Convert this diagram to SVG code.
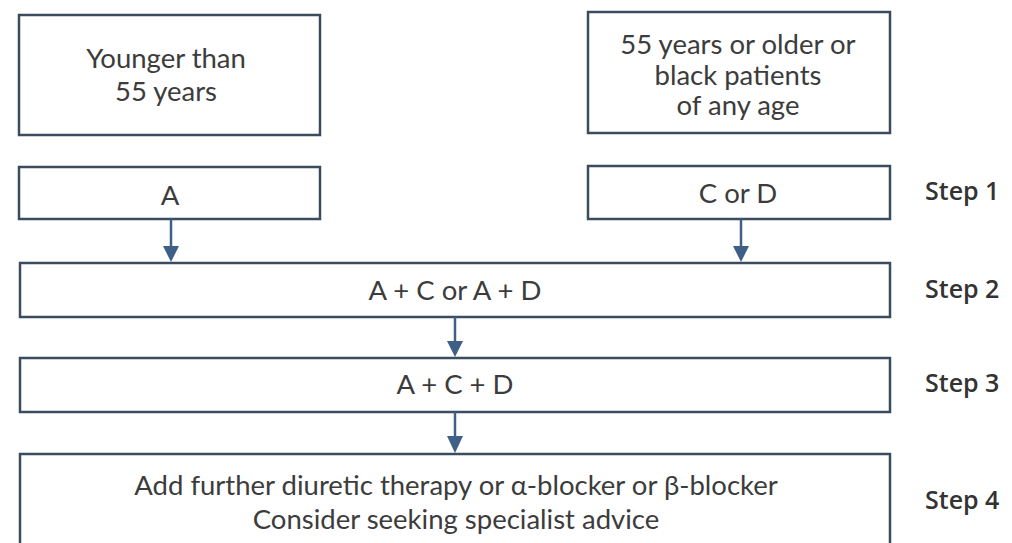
<svg xmlns="http://www.w3.org/2000/svg" width="1012" height="543" viewBox="0 0 1012 543">
  <defs>
    <style>
      .box { fill: #ffffff; stroke: #3b4b60; stroke-width: 2.5; }
      .lbl { font-family: Lato, "Open Sans", "Liberation Sans", sans-serif; font-size: 27.5px; fill: #3c3c3c; text-anchor: middle; }
      .step { font-family: "Open Sans", Lato, "Liberation Sans", sans-serif; font-size: 25px; font-weight: 600; fill: #333333; }
      .link { stroke: #3e5f86; stroke-width: 2.5; fill: none; }
      .head { fill: #3e5f86; }
    </style>
  </defs>
  <rect width="1012" height="543" fill="#ffffff"/>

  <g id="node-younger">
    <rect class="box" x="19" y="15" width="301" height="120"/>
    <text class="lbl" x="166" y="68">Younger than</text>
    <text class="lbl" x="166" y="101">55 years</text>
  </g>

  <g id="node-older">
    <rect class="box" x="588" y="12" width="302" height="121"/>
    <text class="lbl" x="738" y="54">55 years or older or</text>
    <text class="lbl" x="738" y="85">black patients</text>
    <text class="lbl" x="738" y="115">of any age</text>
  </g>

  <g id="node-a">
    <rect class="box" x="19" y="167" width="301" height="52"/>
    <text class="lbl" x="170" y="205">A</text>
  </g>

  <g id="node-c-or-d">
    <rect class="box" x="588" y="166" width="302" height="53"/>
    <text class="lbl" x="738" y="203">C or D</text>
  </g>

  <g id="node-step2">
    <rect class="box" x="20" y="263" width="870" height="54"/>
    <text class="lbl" x="455" y="300">A + C or A + D</text>
  </g>

  <g id="node-step3">
    <rect class="box" x="20" y="358" width="870" height="54"/>
    <text class="lbl" x="455" y="394">A + C + D</text>
  </g>

  <g id="node-step4">
    <rect class="box" x="20" y="454" width="870" height="100"/>
    <text class="lbl" x="456" y="495">Add further diuretic therapy or α-blocker or β-blocker</text>
    <text class="lbl" x="456" y="529">Consider seeking specialist advice</text>
  </g>

  <g id="step-labels">
    <text class="step" x="925" y="200">Step 1</text>
    <text class="step" x="925" y="298">Step 2</text>
    <text class="step" x="925" y="392">Step 3</text>
    <text class="step" x="925" y="509">Step 4</text>
  </g>

  <g id="connectors">
    <line class="link" x1="171" y1="219" x2="171" y2="248"/>
    <polygon class="head" points="163,246 179,246 171,262"/>
    <line class="link" x1="741" y1="219" x2="741" y2="248"/>
    <polygon class="head" points="733,246 749,246 741,262"/>
    <line class="link" x1="455" y1="317" x2="455" y2="343"/>
    <polygon class="head" points="447,341 463,341 455,357"/>
    <line class="link" x1="455" y1="412" x2="455" y2="438"/>
    <polygon class="head" points="447,436 463,436 455,453"/>
  </g>
</svg>
